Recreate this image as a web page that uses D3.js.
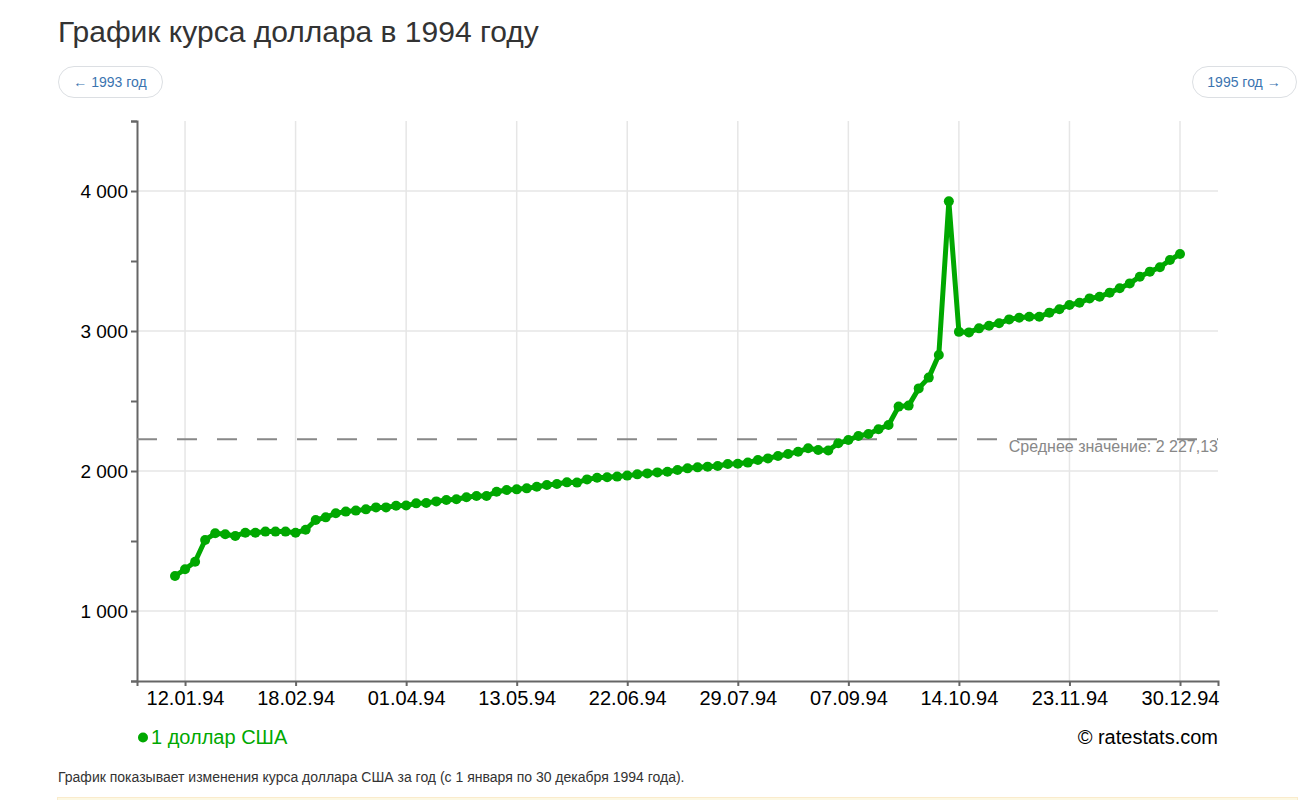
<!DOCTYPE html>
<html lang="ru">
<head>
<meta charset="utf-8">
<title>График курса доллара в 1994 году</title>
<script src="https://cdn.jsdelivr.net/npm/d3@7"></script>
<style>
  body { margin: 0; background: #fff; font-family: "Liberation Sans", Arial, sans-serif; }
  .grid line { stroke: #e6e6e6; stroke-width: 1.5; }
  .axis path, .axis line { stroke: #666; stroke-width: 2; }
  .axis text { font-family: "Liberation Sans", Arial, sans-serif; fill: #000; }
  .x-axis text { font-size: 20px; }
  .y-axis text { font-size: 19px; }
</style>
</head>
<body>
<svg id="chart" width="1316" height="800"></svg>
<script>
// курс ЦБ, 1 доллар США, 1994
const dates = [
  "05.01.94","12.01.94","14.01.94","19.01.94","21.01.94","26.01.94","28.01.94",
  "02.02.94","04.02.94","09.02.94","11.02.94","16.02.94","18.02.94","23.02.94","25.02.94",
  "02.03.94","04.03.94","11.03.94","16.03.94","18.03.94","23.03.94","25.03.94","30.03.94",
  "01.04.94","06.04.94","08.04.94","13.04.94","15.04.94","20.04.94","22.04.94","27.04.94","29.04.94",
  "06.05.94","11.05.94","13.05.94","18.05.94","20.05.94","25.05.94","27.05.94",
  "01.06.94","03.06.94","08.06.94","10.06.94","15.06.94","17.06.94","22.06.94","24.06.94","29.06.94",
  "01.07.94","06.07.94","08.07.94","13.07.94","15.07.94","20.07.94","22.07.94","27.07.94","29.07.94",
  "03.08.94","05.08.94","10.08.94","12.08.94","17.08.94","19.08.94","24.08.94","26.08.94","31.08.94",
  "02.09.94","07.09.94","09.09.94","14.09.94","16.09.94","21.09.94","23.09.94","28.09.94","30.09.94",
  "05.10.94","07.10.94","12.10.94","14.10.94","19.10.94","21.10.94","26.10.94","28.10.94",
  "02.11.94","04.11.94","09.11.94","11.11.94","16.11.94","18.11.94","23.11.94","25.11.94","30.11.94",
  "02.12.94","07.12.94","09.12.94","14.12.94","16.12.94","21.12.94","23.12.94","28.12.94","30.12.94"
];

const usdRate = [
  1250, 1298, 1352, 1507, 1555, 1548, 1536,
  1559, 1559, 1567, 1567, 1567, 1559, 1580, 1650,
  1669, 1698, 1710, 1717, 1726, 1740, 1740, 1752,
  1753, 1769, 1772, 1783, 1793, 1798, 1812, 1821, 1821,
  1852, 1864, 1869, 1876, 1888, 1900, 1907,
  1919, 1917, 1940, 1952, 1955, 1960, 1967, 1976, 1983,
  1990, 1995, 2007, 2019, 2026, 2031, 2036, 2050, 2052,
  2060, 2079, 2090, 2107, 2121, 2138, 2162, 2150, 2147,
  2198, 2221, 2250, 2264, 2298, 2329, 2460, 2467, 2590,
  2667, 2829, 3926, 2994, 2990, 3019, 3038, 3055,
  3083, 3095, 3102, 3102, 3131, 3155, 3186, 3202, 3233,
  3245, 3274, 3305, 3340, 3388, 3424, 3455, 3507, 3550
];

const tickLabels = ["12.01.94","18.02.94","01.04.94","13.05.94","22.06.94",
                    "29.07.94","07.09.94","14.10.94","23.11.94","30.12.94"];
const yTickValues = [500, 1000, 1500, 2000, 2500, 3000, 3500, 4000, 4500];
const yGridValues = [1000, 2000, 3000, 4000];
const meanValue = 2227.13;

const green = "#00a800";

const ru = d3.formatLocale({ decimal: ",", thousands: "\u00a0", grouping: [3], currency: ["", ""] });
const fmtInt = ru.format(",d");
const fmtMean = ru.format(",.2f");

const svg = d3.select("#chart");

// заголовок и кнопки
svg.append("text")
  .attr("x", 58).attr("y", 42)
  .style("font-size", "30px").style("fill", "#333")
  .text("График курса доллара в 1994 году");

function pill(x, label) {
  const g = svg.append("g");
  g.append("rect")
    .attr("x", x + 0.5).attr("y", 66.5)
    .attr("width", 104).attr("height", 31).attr("rx", 15.5)
    .attr("fill", "#fff").attr("stroke", "#dcdfe3");
  g.append("text")
    .attr("x", x + 52).attr("y", 87)
    .attr("text-anchor", "middle")
    .style("font-size", "14px").style("fill", "#3b74b0")
    .text(label);
}
pill(58, "← 1993 год");
pill(1192, "1995 год →");

// шкалы
const x = d3.scalePoint()
  .domain(dates)
  .range([137, 1218])
  .padding(3.78);

const y = d3.scaleLinear()
  .domain([500, 4500])
  .range([681, 121]);

// сетка
svg.append("g").attr("class", "grid")
  .selectAll("line.v")
  .data(tickLabels)
  .enter().append("line")
  .attr("x1", d => x(d)).attr("x2", d => x(d))
  .attr("y1", y(4500)).attr("y2", y(500));

svg.append("g").attr("class", "grid")
  .selectAll("line.h")
  .data(yGridValues)
  .enter().append("line")
  .attr("x1", 137).attr("x2", 1218)
  .attr("y1", d => y(d)).attr("y2", d => y(d));

// оси
svg.append("g")
  .attr("class", "axis x-axis")
  .attr("transform", "translate(0," + y(500) + ")")
  .call(d3.axisBottom(x).tickValues(tickLabels).tickSize(5).tickPadding(5));

svg.append("g")
  .attr("class", "axis y-axis")
  .attr("transform", "translate(137,0)")
  .call(d3.axisLeft(y)
    .tickValues(yTickValues)
    .tickSize(6)
    .tickPadding(3)
    .tickFormat(d => (d % 1000 === 0 && d < 4500 && d > 500) ? fmtInt(d) : ""));

// среднее значение
svg.append("line")
  .attr("x1", 137).attr("x2", 1218)
  .attr("y1", y(meanValue)).attr("y2", y(meanValue))
  .attr("stroke", "#888").attr("stroke-width", 2)
  .attr("stroke-dasharray", "20,20");

svg.append("text")
  .attr("x", 1218).attr("y", y(meanValue) + 13)
  .attr("text-anchor", "end")
  .style("font-size", "16px").style("fill", "#888")
  .text("Среднее значение: " + fmtMean(meanValue));

// линия курса
const line = d3.line()
  .x((d, i) => x(dates[i]))
  .y(d => y(d));

svg.append("path")
  .datum(usdRate)
  .attr("fill", "none")
  .attr("stroke", green)
  .attr("stroke-width", 5)
  .attr("stroke-linejoin", "round")
  .attr("d", line);

svg.append("g")
  .selectAll("circle")
  .data(usdRate)
  .enter().append("circle")
  .attr("cx", (d, i) => x(dates[i]))
  .attr("cy", d => y(d))
  .attr("r", 5)
  .attr("fill", green);

// легенда
svg.append("circle")
  .attr("cx", 143).attr("cy", 737.5).attr("r", 5)
  .attr("fill", green);
svg.append("text")
  .attr("x", 151).attr("y", 744)
  .style("font-size", "20px").style("fill", green)
  .text("1 доллар США");
svg.append("text")
  .attr("x", 1218).attr("y", 744)
  .attr("text-anchor", "end")
  .style("font-size", "20px").style("fill", "#000")
  .text("© ratestats.com");

// подпись
svg.append("text")
  .attr("x", 58).attr("y", 782)
  .style("font-size", "14px").style("fill", "#333")
  .text("График показывает изменения курса доллара США за год (с 1 января по 30 декабря 1994 года).");

svg.append("rect")
  .attr("x", 57.5).attr("y", 797.5)
  .attr("width", 1240).attr("height", 12)
  .attr("fill", "#fcf8e3").attr("stroke", "#faebcc");
</script>
</body>
</html>
